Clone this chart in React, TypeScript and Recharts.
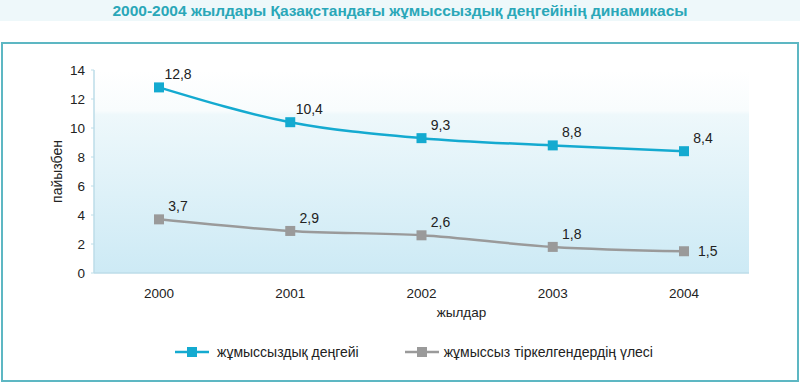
import React from 'react';
import { LineChart, Line, XAxis, YAxis, CartesianGrid, Legend, LabelList } from 'recharts';

const years = ['2000', '2001', '2002', '2003', '2004'];
const unemploymentRate = [12.8, 10.4, 9.3, 8.8, 8.4];
const registeredShare = [3.7, 2.9, 2.6, 1.8, 1.5];
const yTicks = [0, 2, 4, 6, 8, 10, 12, 14];
const chartTitle = '2000-2004 жылдары Қазақстандағы жұмыссыздық деңгейінің динамикасы';
const seriesNames = ['жұмыссыздық деңгейі', 'жұмыссыз тіркелгендердің үлесі'];
const xAxisTitle = 'жылдар';
const yAxisTitle = 'пайызбен';

const data = years.map((year, i) => ({
  year,
  rate: unemploymentRate[i],
  share: registeredShare[i],
}));

const FONT = '"Liberation Sans", Arial, sans-serif';
const BLUE = '#14aad0';
const GRAY = '#9a9a9a';
const AXIS = '#bcdde8';

const fmt = (v: number) => v.toFixed(1).replace('.', ',');

const squareDot = (color: string) => (props: any) => {
  const { cx, cy, index } = props;
  if (cx == null || cy == null) return <g key={index} />;
  return <rect key={index} x={cx - 5} y={cy - 5} width={10} height={10} fill={color} />;
};

const makeLabel = (lastRight: boolean) => (props: any) => {
  const { x, y, value, index } = props;
  const right = lastRight && index === years.length - 1;
  return (
    <text
      key={index}
      x={right ? x + 14 : x + 19}
      y={right ? y : y - 13}
      textAnchor={right ? 'start' : 'middle'}
      dominantBaseline="central"
      fontFamily={FONT}
      fontSize={14}
      fill="#222"
    >
      {fmt(value)}
    </text>
  );
};

const LegendContent = (props: any) => {
  const payload = props.payload || [];
  return (
    <div style={{ display: 'flex', justifyContent: 'center', alignItems: 'center', fontFamily: FONT, fontSize: 14, color: '#222', paddingLeft: 28 }}>
      {payload.map((p: any, i: number) => (
        <div key={i} style={{ display: 'flex', alignItems: 'center', marginRight: i === 0 ? 46 : 0 }}>
          <svg width={34} height={12} style={{ marginRight: i === 0 ? 8 : 5 }}>
            <line x1={0} y1={6} x2={34} y2={6} stroke={p.color} strokeWidth={2.5} />
            <rect x={12} y={1} width={10} height={10} fill={p.color} />
          </svg>
          <span>{p.value}</span>
        </div>
      ))}
    </div>
  );
};

export default function App() {
  return (
    <div style={{ position: 'absolute', left: 0, top: 0, width: 800, height: 382, background: '#fff', overflow: 'hidden' }}>
      <div style={{ position: 'absolute', left: 0, top: 0, width: 800, height: 21, background: '#eef8fa' }} />
      <div style={{ position: 'absolute', left: 0, top: 0, width: 800, height: 21, lineHeight: '21px', textAlign: 'center', fontFamily: FONT, fontWeight: 'bold', fontSize: 15.5, color: '#2aa7b8' }}>
        {chartTitle}
      </div>
      <div style={{ position: 'absolute', left: 1, top: 42, width: 794, height: 336, border: '2px solid #5db7c3' }} />
      <div style={{ position: 'absolute', left: 0, top: 0 }}>
        <LineChart width={800} height={382} data={data} margin={{ top: 70, right: 51, left: 50, bottom: 79 }}>
          <defs>
            <linearGradient id="plotBg" x1="0" y1="0" x2="0" y2="1">
              <stop offset="0%" stopColor="#ffffff" />
              <stop offset="20%" stopColor="#f8fcfd" />
              <stop offset="22%" stopColor="#eef8fb" />
              <stop offset="100%" stopColor="#cdeaf5" />
            </linearGradient>
          </defs>
          <CartesianGrid horizontal={false} vertical={false} fill="url(#plotBg)" stroke="none" />
          <XAxis
            dataKey="year"
            height={30}
            padding={{ left: 65, right: 65 }}
            axisLine={{ stroke: AXIS, strokeWidth: 1.5 }}
            tickLine={false}
            tickMargin={9}
            tick={{ fontFamily: FONT, fontSize: 13.5, fill: '#222' }}
            label={{
              content: (p: any) => {
                const vb = p.viewBox || {};
                return (
                  <text x={vb.x + vb.width / 2 + 40} y={312} textAnchor="middle" dominantBaseline="central" fontFamily={FONT} fontSize={13.5} fill="#222">
                    {xAxisTitle}
                  </text>
                );
              },
            }}
          />
          <YAxis
            width={44}
            domain={[0, 14]}
            ticks={yTicks}
            interval={0}
            axisLine={{ stroke: AXIS, strokeWidth: 1.5 }}
            tickLine={{ stroke: AXIS }}
            tickSize={3}
            tickMargin={6}
            tick={{ fontFamily: FONT, fontSize: 13.5, fill: '#222' }}
            label={{
              content: (p: any) => {
                const vb = p.viewBox || {};
                const cy = vb.y + vb.height / 2;
                return (
                  <text x={57} y={cy} transform={`rotate(-90, 57, ${cy})`} textAnchor="middle" dominantBaseline="central" fontFamily={FONT} fontSize={14} fill="#222">
                    {yAxisTitle}
                  </text>
                );
              },
            }}
          />
          <Legend
            layout="horizontal"
            verticalAlign="middle"
            align="center"
            itemSorter="dataKey"
            wrapperStyle={{ top: 344, left: 0, width: 800 }}
            content={LegendContent}
          />
          <Line
            type="monotone"
            dataKey="rate"
            name={seriesNames[0]}
            stroke={BLUE}
            strokeWidth={2.5}
            dot={squareDot(BLUE)}
            activeDot={false}
            isAnimationActive={false}
          >
            <LabelList dataKey="rate" content={makeLabel(false)} />
          </Line>
          <Line
            type="monotone"
            dataKey="share"
            name={seriesNames[1]}
            stroke={GRAY}
            strokeWidth={2.5}
            dot={squareDot(GRAY)}
            activeDot={false}
            isAnimationActive={false}
          >
            <LabelList dataKey="share" content={makeLabel(true)} />
          </Line>
        </LineChart>
      </div>
    </div>
  );
}
